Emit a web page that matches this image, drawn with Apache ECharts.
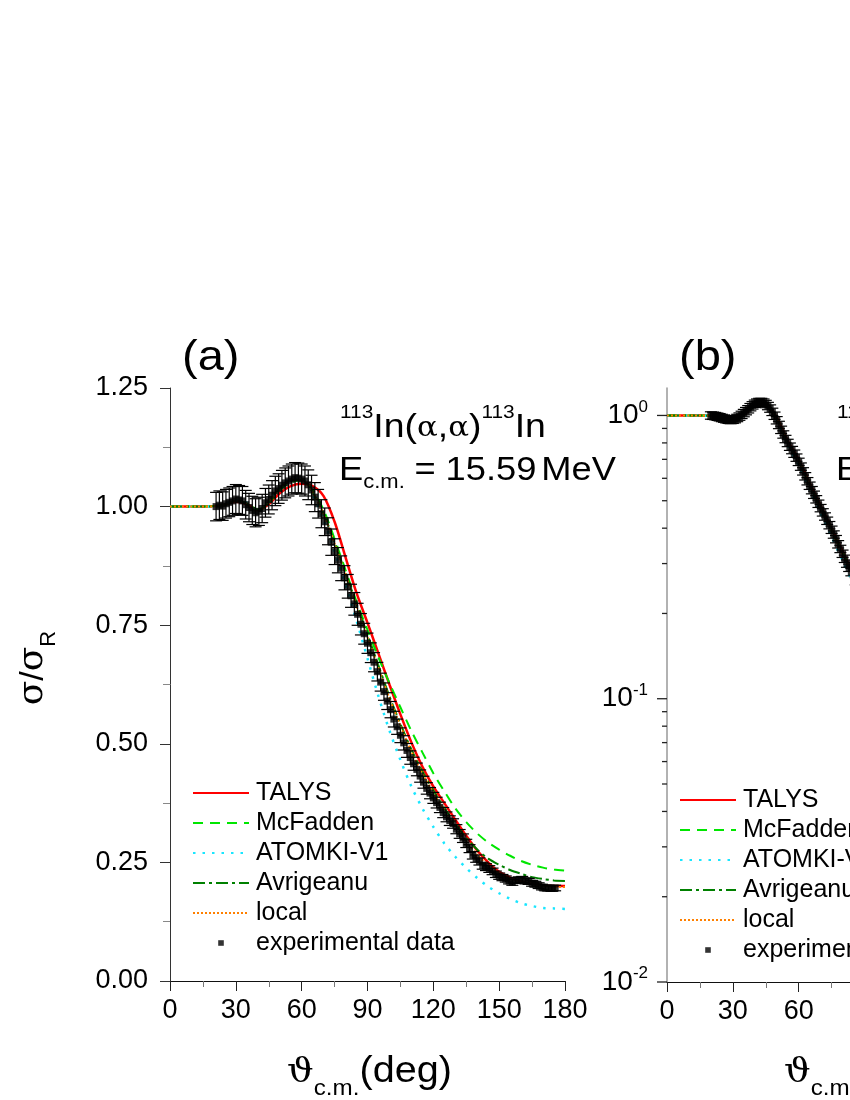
<!DOCTYPE html>
<html>
<head>
<meta charset="utf-8">
<script src="https://cdn.jsdelivr.net/npm/echarts@6/dist/echarts.min.js"></script>
<style>
html, body { margin: 0; padding: 0; background: #fff; }
#chart { width: 850px; height: 1100px; }
</style>
</head>
<body>
<div id="chart"></div>
<script>
// ---- data ----
var seriesNames = ['TALYS', 'McFadden', 'ATOMKI-V1', 'Avrigeanu', 'local', 'experimental data'];
var xTicks = [0, 30, 60, 90, 120, 150, 180];

// panel (a): 15.59 MeV, linear scale
var thetaModA = [0, 5, 10, 15, 20, 25, 30, 35, 40, 45, 50, 55, 60, 65, 70, 75, 80, 85, 90, 95, 100, 105, 110, 115, 120, 125, 130, 135, 140, 145, 150, 155, 160, 165, 170, 175, 180];
var talysA = [1.000, 1.000, 1.000, 1.000, 1.001, 1.004, 1.010, 1.005, 0.993, 1.005, 1.028, 1.043, 1.048, 1.043, 1.022, 0.968, 0.893, 0.818, 0.755, 0.690, 0.625, 0.562, 0.503, 0.452, 0.410, 0.375, 0.340, 0.306, 0.275, 0.250, 0.230, 0.218, 0.210, 0.205, 0.202, 0.200, 0.200];
var mcfaddenA = [1.000, 1.000, 1.000, 1.000, 1.001, 1.004, 1.012, 1.007, 0.994, 1.008, 1.034, 1.051, 1.055, 1.035, 0.993, 0.932, 0.866, 0.800, 0.740, 0.682, 0.628, 0.577, 0.527, 0.482, 0.438, 0.400, 0.364, 0.335, 0.311, 0.292, 0.277, 0.264, 0.253, 0.245, 0.239, 0.235, 0.233];
var atomkiA = [1.000, 1.000, 1.000, 1.000, 1.001, 1.005, 1.013, 1.008, 0.990, 1.010, 1.040, 1.058, 1.058, 1.025, 0.972, 0.905, 0.835, 0.760, 0.680, 0.600, 0.528, 0.466, 0.410, 0.364, 0.325, 0.290, 0.262, 0.238, 0.217, 0.199, 0.185, 0.173, 0.164, 0.158, 0.154, 0.153, 0.152];
var avrigeanuA = [1.000, 1.000, 1.000, 1.000, 1.001, 1.004, 1.012, 1.006, 0.990, 1.010, 1.038, 1.055, 1.056, 1.030, 0.985, 0.925, 0.860, 0.795, 0.730, 0.665, 0.600, 0.542, 0.488, 0.442, 0.402, 0.365, 0.332, 0.302, 0.277, 0.258, 0.245, 0.234, 0.226, 0.219, 0.215, 0.212, 0.211];
var localA = [1.000, 1.000, 1.000, 1.000, 1.001, 1.004, 1.012, 1.006, 0.990, 1.010, 1.038, 1.055, 1.056, 1.030, 0.984, 0.922, 0.857, 0.790, 0.725, 0.660, 0.596, 0.538, 0.484, 0.437, 0.397, 0.360, 0.326, 0.294, 0.266, 0.244, 0.228, 0.216, 0.209, 0.204, 0.201, 0.199, 0.198];

var expThetaA = [21, 22.5, 24, 25.5, 27, 28.5, 30, 31.5, 33, 34.5, 36, 37.5, 39, 40.5, 42, 43.5, 45, 46.5, 48, 49.5, 51, 52.5, 54, 55.5, 57, 58.5, 60, 61.5, 63, 64.5, 66, 67.5, 69, 70.5, 72, 73.5, 75, 76.5, 78, 79.5, 81, 82.5, 84, 85.5, 87, 88.5, 90, 91.5, 93, 94.5, 96, 97.5, 99, 100.5, 102, 103.5, 105, 106.5, 108, 109.5, 111, 112.5, 114, 115.5, 117, 118.5, 120, 121.5, 123, 124.5, 126, 127.5, 129, 130.5, 132, 133.5, 135, 136.5, 138, 139.5, 141, 142.5, 144, 145.5, 147, 148.5, 150, 151.5, 153, 154.5, 156, 157.5, 159, 160.5, 162, 163.5, 165, 166.5, 168, 169.5, 171, 172.5, 174, 175.5];
var expValA = [1.000, 1.003, 1.001, 1.006, 1.009, 1.012, 1.016, 1.014, 1.012, 1.004, 0.998, 0.992, 0.987, 0.990, 0.996, 1.008, 1.015, 1.024, 1.033, 1.038, 1.045, 1.050, 1.054, 1.058, 1.061, 1.060, 1.058, 1.054, 1.046, 1.035, 1.020, 1.006, 0.985, 0.968, 0.948, 0.925, 0.905, 0.887, 0.870, 0.850, 0.832, 0.812, 0.795, 0.773, 0.752, 0.732, 0.712, 0.692, 0.672, 0.652, 0.630, 0.610, 0.590, 0.572, 0.552, 0.536, 0.518, 0.502, 0.486, 0.471, 0.458, 0.446, 0.432, 0.419, 0.406, 0.396, 0.386, 0.376, 0.366, 0.355, 0.346, 0.338, 0.332, 0.320, 0.310, 0.301, 0.290, 0.279, 0.265, 0.258, 0.252, 0.243, 0.240, 0.236, 0.231, 0.225, 0.221, 0.218, 0.215, 0.211, 0.208, 0.212, 0.213, 0.214, 0.211, 0.210, 0.206, 0.204, 0.201, 0.198, 0.196, 0.196, 0.195, 0.196];

// panel (b): log scale (only the left part is inside the picture)
var thetaModB = [0, 5, 10, 15, 20, 25, 30, 35, 40, 45, 50, 55, 60, 65, 70, 75, 80, 85, 90, 95, 100];
var talysB = [1.000, 1.000, 1.000, 0.999, 0.997, 0.984, 0.967, 1.005, 1.085, 1.100, 0.985, 0.815, 0.700, 0.578, 0.482, 0.400, 0.332, 0.276, 0.230, 0.192, 0.160];
var mcfaddenB = [1.000, 1.000, 1.000, 0.999, 0.996, 0.982, 0.965, 1.002, 1.080, 1.095, 0.975, 0.800, 0.690, 0.570, 0.475, 0.396, 0.330, 0.277, 0.233, 0.198, 0.170];
var atomkiB = [1.000, 1.000, 1.000, 0.999, 0.997, 0.985, 0.968, 1.010, 1.090, 1.100, 0.960, 0.785, 0.668, 0.548, 0.453, 0.373, 0.308, 0.253, 0.208, 0.172, 0.143];
var avrigeanuB = [1.000, 1.000, 1.000, 0.999, 0.996, 0.983, 0.966, 1.003, 1.082, 1.098, 0.978, 0.805, 0.690, 0.568, 0.472, 0.392, 0.326, 0.271, 0.226, 0.190, 0.160];
var localB = [1.000, 1.000, 1.000, 0.999, 0.996, 0.982, 0.965, 1.002, 1.082, 1.100, 0.980, 0.808, 0.688, 0.566, 0.470, 0.390, 0.324, 0.269, 0.224, 0.188, 0.158];

var expThetaB = [20, 21, 22, 23, 24, 25, 26, 27, 28, 29, 30, 31, 32, 33, 34, 35, 36, 37, 38, 39, 40, 41, 42, 43, 44, 45, 46, 47, 48, 49, 50, 51, 52, 53, 54, 55, 56, 57, 58, 59, 60, 61, 62, 63, 64, 65, 66, 67, 68, 69, 70, 71, 72, 73, 74, 75, 76, 77, 78, 79, 80, 81, 82, 83, 84, 86, 88, 90];
var expValB = [1.000, 0.998, 0.995, 0.990, 0.986, 0.980, 0.975, 0.970, 0.966, 0.964, 0.966, 0.971, 0.980, 0.991, 1.005, 1.020, 1.036, 1.052, 1.070, 1.086, 1.100, 1.110, 1.116, 1.116, 1.110, 1.098, 1.080, 1.058, 1.030, 0.998, 0.962, 0.926, 0.890, 0.857, 0.826, 0.800, 0.776, 0.755, 0.733, 0.710, 0.686, 0.660, 0.635, 0.610, 0.586, 0.565, 0.545, 0.525, 0.506, 0.488, 0.471, 0.455, 0.440, 0.425, 0.410, 0.395, 0.380, 0.366, 0.351, 0.338, 0.325, 0.312, 0.300, 0.290, 0.280, 0.260, 0.241, 0.222];

var relErr = 0.03;   // error bars look like ~3 % of the value everywhere
var majorTicksB = [0.01, 0.1, 1];
var minorTicksB = [0.02, 0.03, 0.04, 0.05, 0.06, 0.07, 0.08, 0.09, 0.2, 0.3, 0.4, 0.5, 0.6, 0.7, 0.8, 0.9];

// ---- helpers ----
function pairs(xs, ys) {
    return xs.map(function (x, i) { return [x, ys[i]]; });
}
function errRows(xs, ys) {
    return xs.map(function (x, i) { return [x, ys[i] * (1 - relErr), ys[i] * (1 + relErr)]; });
}
function renderErr(params, api) {
    var lo = api.coord([api.value(0), api.value(1)]);
    var hi = api.coord([api.value(0), api.value(2)]);
    var hw = 6;
    var st = { stroke: '#000', lineWidth: 1.2 };
    return {
        type: 'group',
        children: [
            { type: 'line', shape: { x1: lo[0], y1: lo[1], x2: hi[0], y2: hi[1] }, style: st },
            { type: 'line', shape: { x1: lo[0] - hw, y1: lo[1], x2: lo[0] + hw, y2: lo[1] }, style: st },
            { type: 'line', shape: { x1: hi[0] - hw, y1: hi[1], x2: hi[0] + hw, y2: hi[1] }, style: st }
        ]
    };
}
function tickRenderer(len) {
    return function (params, api) {
        var p = api.coord([0, api.value(1)]);
        return { type: 'line', shape: { x1: p[0] - len, y1: p[1], x2: p[0], y2: p[1] }, style: { stroke: '#222', lineWidth: 1.3 } };
    };
}

var lineStyles = [
    { color: '#ff0000', width: 2.5, type: 'solid' },
    { color: '#00e600', width: 2, type: [10, 7] },
    { color: '#19e6ff', width: 2.5, type: [2.5, 7] },
    { color: '#008000', width: 2, type: [12, 4, 3, 4] },
    { color: '#ff8000', width: 2, type: [2, 2] }
];

function modelSeries(idx, xs, ys, gi) {
    return {
        name: seriesNames[idx], type: 'line', xAxisIndex: gi, yAxisIndex: gi,
        data: pairs(xs, ys), showSymbol: false, symbol: 'none', smooth: 0.3,
        lineStyle: lineStyles[idx], itemStyle: { color: lineStyles[idx].color }, z: 3
    };
}

var sans = 'Liberation Sans, Arial, sans-serif';
var serif = 'DejaVu Serif, Liberation Serif, serif';

function legendFor(left, top) {
    var items = seriesNames.slice(0, 5).map(function (n) {
        return { name: n, itemStyle: { opacity: 0 } };
    });
    items.push({ name: 'experimental data', icon: 'path://M0,0M10,10M3,3L7,3L7,7L3,7Z' });
    return {
        orient: 'vertical', left: left, top: top, padding: 0,
        itemWidth: 56, itemHeight: 14, itemGap: 4,
        selectedMode: false,
        textStyle: { fontFamily: sans, fontSize: 25, color: '#000', lineHeight: 26, padding: [0, 0, 0, 2] },
        data: items
    };
}

function xAxisFor(gi) {
    return {
        type: 'value', gridIndex: gi, min: 0, max: 180, interval: 30,
        axisLine: { show: true, onZero: false, lineStyle: { color: '#111', width: 1 } },
        axisTick: { show: true, length: 10, lineStyle: { color: '#222' } },
        minorTick: { show: true, splitNumber: 2, length: 6, lineStyle: { color: '#777' } },
        splitLine: { show: false },
        axisLabel: { fontFamily: sans, fontSize: 27, color: '#000', margin: 16 }
    };
}

// text helpers for the big (horizontally stretched) labels
function sup(fs, pad) { return { fontFamily: sans, fontSize: fs, lineHeight: fs, verticalAlign: 'bottom', padding: [0, 0, pad, 0], fill: '#000' }; }
function big(fs, pad, fam) { return { fontFamily: fam || sans, fontSize: fs, lineHeight: fs, verticalAlign: 'bottom', padding: [0, 0, pad || 0, 0], fill: '#000' }; }

function reactionText(x) {
    return {
        type: 'text', x: x, y: 445, scaleX: 1.1,
        style: {
            text: '{s|113}{m|In(}{g|α}{m|,}{g|α}{m|)}{s|113}{m|In}',
            verticalAlign: 'bottom', fill: '#000',
            rich: { s: sup(19, 23), m: big(34), g: big(28, 2, serif) }
        }
    };
}
function energyText(x, e) {
    return {
        type: 'text', x: x, y: 492, scaleX: 1.1,
        style: {
            text: '{m|E}{c|c.m.}{sp|\u00a0\u00a0}{m|=}{sp|\u00a0\u00a0}{m|' + e + '}{sp|\u00a0}{m|MeV}',
            verticalAlign: 'bottom', fill: '#000',
            rich: { m: big(33, 5), c: big(20, 0), sp: big(16, 5) }
        }
    };
}
function panelTag(x, t) {
    return {
        type: 'text', x: x, y: 358, scaleX: 1.12,
        style: { text: t, fontFamily: sans, fontSize: 42, fill: '#000', verticalAlign: 'middle' }
    };
}
function thetaName(x) {
    return {
        type: 'text', x: x, y: 1100, scaleX: 1.1,
        style: {
            text: '{g|ϑ}{c|c.m.}{m|(deg)}',
            verticalAlign: 'bottom', fill: '#000',
            rich: { g: big(34, 10, serif), c: big(22, 0), m: big(36, 10) }
        }
    };
}

var option = {
    animation: false,
    backgroundColor: '#fff',
    grid: [
        { left: 170, top: 388, width: 395, height: 593, outerBoundsMode: 'none', containLabel: false },
        { left: 667, top: 388, width: 395, height: 594, outerBoundsMode: 'none', containLabel: false }
    ],
    xAxis: [xAxisFor(0), xAxisFor(1)],
    yAxis: [
        {
            type: 'value', gridIndex: 0, min: 0, max: 1.25, interval: 0.25,
            axisLine: { show: true, lineStyle: { color: '#333', width: 1 } },
            axisTick: { show: true, length: 10, lineStyle: { color: '#333' } },
            minorTick: { show: true, splitNumber: 2, length: 7, lineStyle: { color: '#888' } },
            splitLine: { show: false },
            axisLabel: {
                fontFamily: sans, fontSize: 27, color: '#000', margin: 22,
                formatter: function (v) { return v.toFixed(2); }
            }
        },
        {
            type: 'log', logBase: 10, gridIndex: 1, min: 0.01, max: 1.25,
            axisLine: { show: true, lineStyle: { color: '#999', width: 1.5 } },
            axisTick: { show: false },
            minorTick: { show: false },
            splitLine: { show: false },
            axisLabel: {
                margin: 19, color: '#000',
                formatter: function (v) {
                    var lg = Math.log10(v), e = Math.round(lg);
                    if (Math.abs(lg - e) > 1e-6) return '';
                    return '{b|10}{e|' + e + '}';
                },
                rich: {
                    b: { fontFamily: sans, fontSize: 28, lineHeight: 28, verticalAlign: 'bottom', color: '#000' },
                    e: { fontFamily: sans, fontSize: 17, lineHeight: 17, verticalAlign: 'bottom', padding: [0, 0, 14, 0], color: '#000' }
                }
            }
        }
    ],
    legend: [legendFor(192, 780), legendFor(679, 787)],
    graphic: [
        panelTag(182, '(a)'),
        panelTag(679, '(b)'),
        reactionText(340),
        energyText(339, '15.59'),
        reactionText(837),
        energyText(836, '18.82'),
        thetaName(287),
        thetaName(784),
        {
            type: 'text', x: 42, y: 668, rotation: Math.PI / 2,
            style: {
                text: '{g|σ}{m|/}{g|σ}{r|R}',
                align: 'center', verticalAlign: 'middle', fill: '#000',
                rich: { g: big(36, 9, serif), m: big(34, 9), r: big(22, 0) }
            }
        }
    ],
    series: [
        modelSeries(0, thetaModA, talysA, 0),
        modelSeries(1, thetaModA, mcfaddenA, 0),
        modelSeries(2, thetaModA, atomkiA, 0),
        modelSeries(3, thetaModA, avrigeanuA, 0),
        modelSeries(4, thetaModA, localA, 0),
        {
            name: 'errA', type: 'custom', xAxisIndex: 0, yAxisIndex: 0,
            renderItem: renderErr, data: errRows(expThetaA, expValA), z: 4
        },
        {
            name: 'experimental data', type: 'scatter', xAxisIndex: 0, yAxisIndex: 0,
            data: pairs(expThetaA, expValA), symbol: 'rect', symbolSize: 7,
            itemStyle: { color: '#000' }, z: 5
        },
        modelSeries(0, thetaModB, talysB, 1),
        modelSeries(1, thetaModB, mcfaddenB, 1),
        modelSeries(2, thetaModB, atomkiB, 1),
        modelSeries(3, thetaModB, avrigeanuB, 1),
        modelSeries(4, thetaModB, localB, 1),
        {
            name: 'errB', type: 'custom', xAxisIndex: 1, yAxisIndex: 1,
            renderItem: renderErr, data: errRows(expThetaB, expValB), z: 4
        },
        {
            name: 'experimental data', type: 'scatter', xAxisIndex: 1, yAxisIndex: 1,
            data: pairs(expThetaB, expValB), symbol: 'rect', symbolSize: 7,
            itemStyle: { color: '#000' }, z: 5
        },
        {
            name: 'majorTicksB', type: 'custom', xAxisIndex: 1, yAxisIndex: 1,
            renderItem: tickRenderer(10), data: majorTicksB.map(function (v) { return [0, v]; })
        },
        {
            name: 'minorTicksB', type: 'custom', xAxisIndex: 1, yAxisIndex: 1,
            renderItem: tickRenderer(5), data: minorTicksB.map(function (v) { return [0, v]; })
        }
    ]
};

var chart = echarts.init(document.getElementById('chart'), null, { renderer: 'canvas', width: 850, height: 1100 });
chart.setOption(option);
</script>
</body>
</html>
